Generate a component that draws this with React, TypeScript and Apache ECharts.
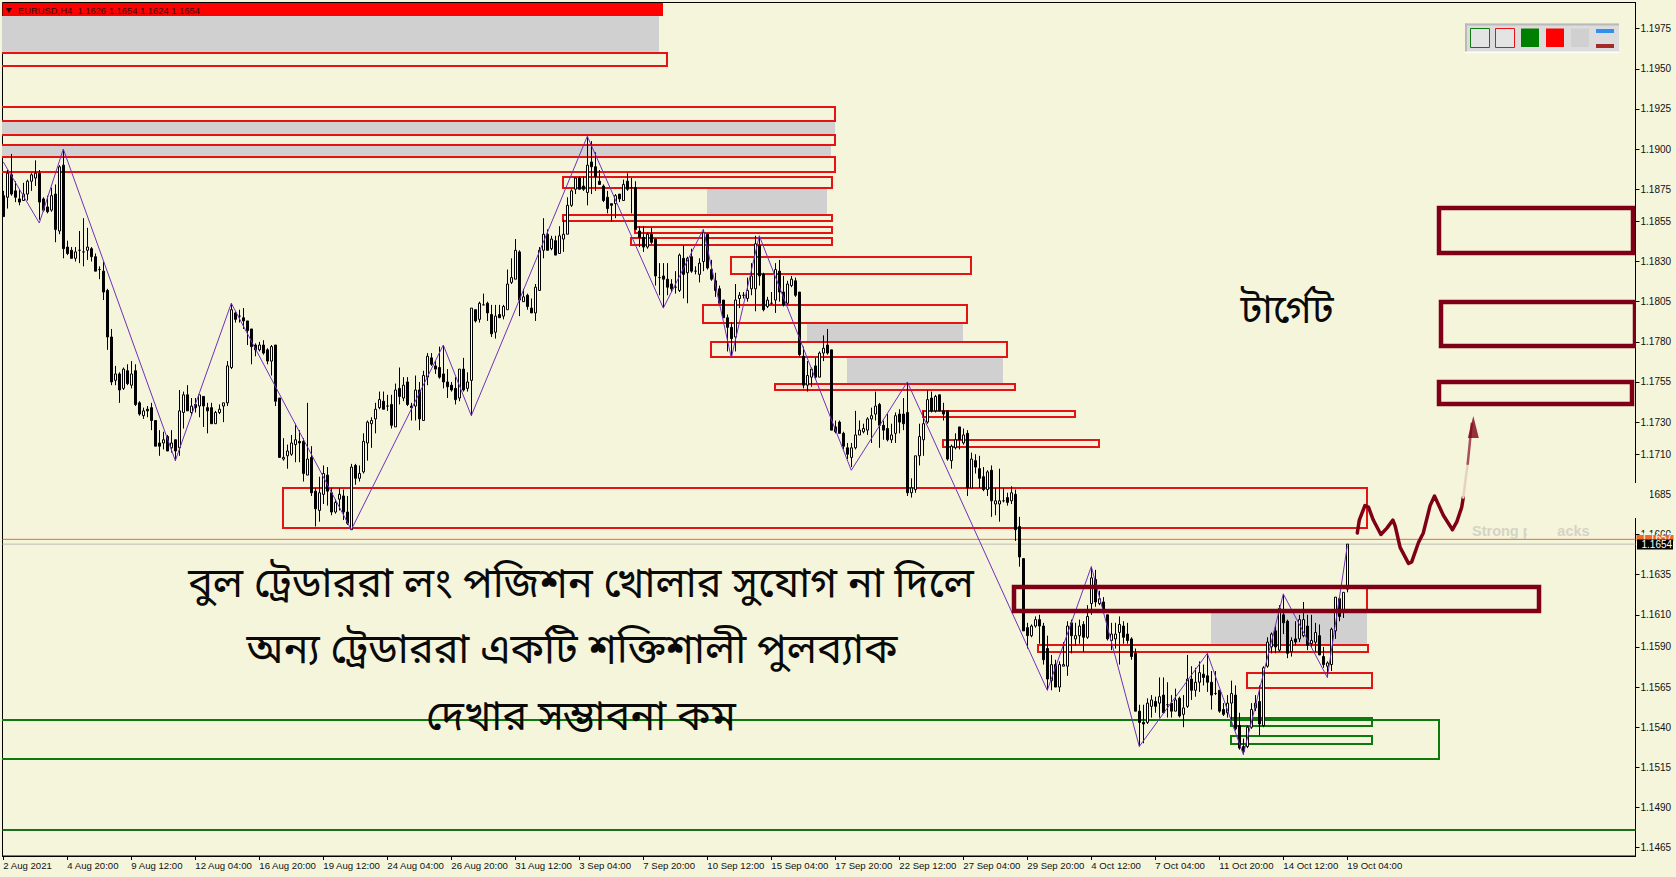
import React, { useEffect, useRef } from "react";
import * as echarts from "echarts";

// OHLC rows in 1/10000 of a price unit: [open, close, low, high]
const barsAug = [
[11871,11858,11858,11874],[11870,11885,11863,11887],[11884,11872,11871,11897],[11874,11870,11867,11880],[11869,11867,11865,11875],[11868,11872,11868,11879],[11872,11880,11868,11881],[11880,11884,11874,11885],[11882,11885,11877,11893],[11885,11867,11856,11887],
[11869,11862,11861,11870],[11864,11861,11860,11871],[11862,11871,11861,11876],[11872,11850,11842,11878],[11849,11889,11847,11890],[11890,11838,11832,11900],[11839,11835,11834,11843],[11837,11832,11832,11839],[11832,11836,11830,11839],[11837,11837,11829,11849],
[11836,11836,11827,11857],[11837,11839,11831,11851],[11838,11833,11830,11839],[11833,11824,11824,11835],[11825,11825,11819,11827],[11824,11811,11806,11830],[11812,11783,11775,11813],[11783,11755,11753,11788],[11756,11760,11753,11765],[11760,11750,11742,11761],
[11751,11763,11750,11764],[11762,11754,11753,11766],[11753,11760,11751,11768],[11762,11741,11740,11766],[11742,11735,11734,11743],[11734,11737,11732,11739],[11738,11737,11733,11740],[11739,11731,11725,11742],[11731,11715,11715,11731],[11717,11715,11709,11725],
[11717,11719,11713,11724],[11721,11712,11712,11722],[11714,11717,11711,11725],[11719,11712,11706,11719],[11714,11737,11709,11750],[11736,11747,11726,11749],[11747,11737,11737,11753],[11736,11740,11734,11745],[11741,11739,11736,11745],[11740,11747,11733,11747],
[11746,11740,11727,11746],[11739,11737,11723,11742],[11739,11729,11729,11742],[11729,11736,11729,11737],[11736,11738,11735,11741],[11740,11742,11730,11742],[11742,11765,11740,11768],[11764,11800,11763,11804],[11798,11794,11792,11799],[11796,11796,11792,11800],
[11795,11793,11788,11801],[11793,11787,11778,11793],[11788,11777,11766,11788],[11778,11775,11771,11779],[11775,11778,11774,11780],[11778,11773,11772,11781],[11775,11768,11766,11776],[11768,11777,11759,11778],[11778,11743,11740,11778],[11745,11708,11708,11745],
[11707,11708,11706,11720],[11709,11712,11701,11716],[11710,11717,11709,11722],[11716,11719,11705,11729],[11718,11717,11705,11725],[11718,11698,11693,11720],[11697,11707,11697,11742],[11708,11686,11684,11715],[11687,11676,11665,11689],[11675,11686,11668,11696],
[11685,11698,11679,11703],[11697,11687,11678,11702],[11686,11674,11672,11689],[11674,11680,11673,11682],[11682,11685,11675,11689],[11684,11674,11669,11688],[11674,11667,11666,11684],[11663,11702,11663,11704],[11703,11695,11691,11704],[11695,11698,11693,11703],
[11699,11718,11698,11723],[11717,11730,11706,11731],[11729,11731,11714,11733],[11732,11738,11723,11742],[11739,11744,11738,11749],[11743,11738,11738,11749],[11740,11740,11737,11747],[11741,11728,11726,11747],[11727,11750,11727,11754],[11751,11746,11741,11764],
[11745,11753,11743,11758],[11755,11741,11740,11758],[11740,11739,11731,11742],[11740,11750,11731,11759],[11750,11732,11725,11755],[11731,11759,11731,11762],[11758,11771,11753,11773],[11770,11766,11765,11773],[11765,11763,11760,11768],[11764,11758,11757,11777],
[11760,11755,11751,11778],[11755,11752,11745,11763],[11753,11750,11749,11755],[11751,11744,11741,11758],[11745,11763,11743,11763],[11763,11750,11749,11770],[11751,11755,11749,11761],[11756,11801,11734,11801],[11800,11793,11792,11800],[11794,11804,11792,11805],
[11803,11803,11803,11810],[11804,11798,11793,11805],[11797,11785,11783,11803],[11786,11796,11782,11803],[11797,11795,11795,11803],[11796,11802,11794,11803],[11800,11816,11800,11825],[11817,11820,11816,11832],[11819,11837,11819,11844],[11836,11806,11796,11837],
[11805,11808,11805,11813],[11809,11802,11800,11810],[11801,11798,11798,11807],[11798,11814,11793,11816],[11812,11837,11812,11839],[11837,11847,11832,11857],[11847,11837,11837,11850],[11838,11844,11837,11846],[11843,11834,11834,11846],[11835,11846,11835,11852],
[11844,11847,11836,11856],[11847,11865,11847,11870],
];
const barsSep = [
[11865,11874,11864,11875],[11875,11882,11872,11882],[11882,11875,11875,11883],[11877,11875,11874,11883],[11873,11890,11865,11908],[11892,11889,11872,11905],[11889,11883,11874,11898],[11880,11878,11878,11887],
[11877,11868,11867,11878],[11870,11863,11860,11874],[11866,11865,11855,11866],[11866,11871,11857,11872],[11872,11869,11867,11872],[11868,11878,11868,11881],[11880,11875,11874,11885],[11876,11876,11860,11882],[11876,11850,11850,11880],[11849,11845,11839,11852],
[11845,11839,11836,11852],[11839,11847,11838,11848],[11847,11842,11841,11851],[11844,11821,11815,11844],[11820,11820,11809,11829],[11821,11819,11801,11829],[11819,11814,11809,11829],[11816,11813,11811,11819],[11814,11814,11810,11824],[11812,11834,11811,11835],
[11832,11822,11807,11840],[11823,11832,11804,11833],[11833,11824,11823,11838],[11824,11824,11822,11827],[11822,11829,11817,11832],[11830,11848,11824,11850],[11847,11826,11825,11847],[11825,11819,11818,11831],[11818,11812,11808,11823],[11813,11804,11803,11815],
[11806,11795,11795,11806],[11795,11789,11774,11797],[11789,11782,11770,11792],[11783,11806,11774,11816],[11807,11809,11801,11811],[11809,11809,11807,11811],[11807,11812,11805,11820],[11813,11821,11809,11829],[11813,11841,11799,11846],[11840,11821,11815,11846],
[11822,11800,11799,11823],[11802,11806,11801,11808],[11804,11804,11803,11811],[11806,11825,11798,11829],[11824,11811,11805,11831],[11811,11803,11802,11821],[11804,11816,11803,11818],[11815,11819,11814,11821],[11818,11809,11808,11820],[11811,11772,11771,11811],
[11771,11753,11751,11777],[11753,11759,11749,11768],[11758,11763,11752,11764],[11765,11758,11757,11770],[11758,11773,11758,11774],[11773,11776,11768,11784],[11778,11773,11772,11788],[11775,11725,11725,11775],
[11727,11724,11723,11731],[11730,11723,11723,11731],[11723,11715,11713,11724],[11714,11710,11707,11717],[11708,11714,11702,11717],[11714,11722,11713,11737],[11722,11725,11722,11731],[11724,11726,11723,11729],[11725,11732,11722,11733],[11732,11734,11717,11739],
[11735,11740,11731,11749],[11741,11728,11714,11742],[11728,11725,11719,11731],[11726,11719,11718,11735],[11719,11722,11717,11729],[11723,11734,11717,11736],[11735,11730,11723,11738],[11735,11729,11725,11745],[11736,11686,11684,11755],[11686,11689,11683,11695],
[11688,11709,11686,11709],[11709,11721,11703,11729],[11719,11729,11709,11737],[11730,11744,11729,11750],[11745,11737,11736,11749],[11737,11746,11736,11747],[11747,11737,11737,11747],[11737,11735,11731,11742],[11737,11707,11706,11737],[11706,11715,11701,11716],
[11714,11719,11713,11723],[11727,11719,11713,11727],[11717,11722,11716,11726],[11723,11689,11684,11725],[11689,11707,11689,11711],[11706,11702,11698,11710],[11701,11695,11689,11709],[11696,11688,11687,11702],[11688,11699,11684,11700],[11700,11681,11671,11703],
[11679,11681,11672,11689],[11679,11681,11668,11701],[11681,11681,11680,11689],[11683,11680,11678,11686],[11681,11686,11679,11690],[11685,11663,11656,11688],[11665,11646,11640,11671],[11645,11600,11600,11645],
];
const barsOct = [
[11602,11597,11589,11605],[11597,11603,11596,11604],[11603,11607,11602,11609],[11607,11603,11592,11610],[11603,11582,11579,11605],[11589,11570,11563,11597],[11569,11579,11563,11585],[11579,11565,11565,11582],[11565,11579,11562,11581],[11578,11579,11578,11593],
[11578,11603,11572,11606],[11605,11597,11586,11607],[11595,11597,11591,11605],[11597,11603,11592,11607],[11604,11596,11587,11606],[11596,11609,11595,11616],[11617,11633,11610,11640],[11632,11618,11615,11638],[11617,11620,11616,11625],[11618,11613,11613,11621],
[11610,11595,11594,11610],[11594,11598,11588,11605],[11595,11598,11589,11605],[11599,11604,11579,11609],[11603,11596,11592,11606],[11598,11594,11592,11605],[11595,11584,11582,11596],[11586,11550,11550,11589],[11550,11543,11528,11554],[11543,11542,11530,11554],
[11543,11555,11542,11558],[11553,11557,11546,11560],[11556,11553,11549,11559],[11555,11559,11546,11571],[11560,11549,11549,11571],[11554,11554,11546,11568],[11555,11550,11546,11560],[11550,11557,11550,11564],[11558,11547,11546,11559],[11548,11552,11540,11560],
[11553,11570,11552,11585],[11570,11563,11557,11578],[11563,11568,11559,11577],[11568,11574,11562,11581],[11573,11571,11566,11579],[11572,11568,11562,11586],[11568,11560,11551,11575],[11561,11561,11560,11575],[11563,11550,11549,11563],[11551,11548,11547,11555],
[11549,11555,11546,11560],[11555,11561,11543,11569],[11560,11539,11538,11566],[11541,11527,11526,11549],[11528,11525,11523,11533],[11528,11540,11527,11541],[11540,11551,11539,11555],[11552,11555,11550,11560],[11556,11542,11535,11566],[11541,11577,11540,11578],
[11578,11593,11577,11596],[11590,11598,11586,11599],[11600,11590,11586,11603],[11588,11614,11587,11616],[11610,11605,11598,11623],[11606,11586,11583,11607],[11587,11594,11584,11596],[11595,11593,11591,11606],[11595,11607,11593,11610],[11597,11607,11596,11618],
[11603,11591,11588,11610],[11592,11594,11590,11610],[11593,11599,11587,11605],[11597,11585,11585,11604],[11584,11579,11577,11590],[11578,11580,11571,11581],[11579,11601,11575,11602],[11600,11621,11595,11621],[11620,11609,11606,11621],[11612,11624,11608,11624],
[11626,11654,11624,11654],
];

const xTickLabels = ["2 Aug 2021","4 Aug 20:00","9 Aug 12:00","12 Aug 04:00","16 Aug 20:00","19 Aug 12:00","24 Aug 04:00","26 Aug 20:00","31 Aug 12:00","3 Sep 04:00","7 Sep 20:00","10 Sep 12:00","15 Sep 04:00","17 Sep 20:00","22 Sep 12:00","27 Sep 04:00","29 Sep 20:00","4 Oct 12:00","7 Oct 04:00","11 Oct 20:00","14 Oct 12:00","19 Oct 04:00"];
const yTickValues = [1.1975,1.195,1.1925,1.19,1.1875,1.1855,1.183,1.1805,1.178,1.1755,1.173,1.171,1.1685,1.166,1.1635,1.161,1.159,1.1565,1.154,1.1515,1.149,1.1465];

// zigzag pivots: [bar index, price in 1/10000]
const zigzag = [[0,11892],[9,11854],[15,11900],[43,11706],[57,11804],[87,11663],[110,11778],[117,11734],[146,11908],[165,11801],[175,11850],[182,11770],[189,11846],[212,11700],[226,11755],[261,11563],[272,11640],[284,11528],[301,11586],[310,11523],[320,11623],[331,11571],[336,11653]];
// hand-drawn projection: [bar index, price in 1/10000]
const projection = [[338.5,11661],[339,11669],[340.4,11678],[341.3,11677],[342.5,11669],[344.4,11660],[345.9,11664],[347.4,11669],[348,11665],[349.2,11652],[351.3,11642],[352.1,11643],[353.8,11655],[355,11661],[356.7,11678],[357.8,11684],[360,11672],[362.3,11663],[363.4,11668],[364.6,11677],[365,11683]];
const projectionFaded = [[365,11683],[365.6,11695],[366.1,11704]];
const projectionTop = [[366.1,11704],[366.7,11719],[367.1,11729]];
const arrowTip = [[367.5,11727]];

// zones: [left bar index, top price, right bar index, bottom price]
const grayZones = [[-3,11983,164,11960],[-3,11917.5,207.9,11908.8],[-3,11902.6,206.9,11895.1],[175.9,11875.6,205.9,11859.6],[200.9,11791.1,239.9,11780.1],[210.9,11770.1,249.9,11754.2],[302,11611,340.9,11591.8]];
const redZones = [[-3,11959.7,165.9,11951.7],[-3,11926.2,207.9,11917.5],[-3,11908.8,207.9,11902.6],[-3,11895.1,207.9,11885.7],[139.9,11882.6,207.2,11875.6],[139.9,11859,207.2,11855.2],[157.9,11851.3,207.2,11847.6],[156.9,11844.6,207.2,11840.3],[181.9,11833,242,11822],[174.9,11803.1,240.9,11791.5],[176.9,11780.1,250.9,11770.5],[192.9,11753.7,252.9,11750],[229.8,11737.1,267.9,11733],[234.9,11718.9,273.9,11714.3],[69.9,11689.2,340.9,11664.1],[252.6,11627.6,340.9,11612.1],[258.7,11591.5,341.1,11586.7],[310.9,11574,342.1,11564.2]];
const paleZones = [[192.9,11753.7,252.9,11750]];
const greenZones = [[-3,11544.5,359,11520.2],[306.9,11546,342.1,11540.8],[306.9,11534.7,342.1,11529.4]];
const targetZones = [[252.6,11627.6,383.9,11612.1],[359,11863.2,407.4,11835.6],[359.3,11804.7,407.8,11777.7],[359,11754.8,407.1,11741]];

const supportLine = 11476;
const bidLine = 11654;
const askLine = 11657;

const headerText = "EURUSD,H4  1.1626 1.1654 1.1624 1.1654";
const captionLines = ["বুল ট্রেডাররা লং পজিশন খোলার সুযোগ না দিলে", "অন্য ট্রেডাররা একটি শক্তিশালী পুলব্যাক", "দেখার সম্ভাবনা কম"];
const targetLabel = "টার্গেট";
const fadedNote = "Strong pullbacks";

const BG = "#F5F5DC";
const UI_FONT = '"Liberation Sans", Arial, sans-serif';
const BN_FONT = '"Noto Sans Bengali", "Noto Serif Bengali", "Lohit Bengali", "Mukti", "FreeSerif", "Noto Sans", sans-serif';
const X_MIN = -0.2;
const X_MAX = 408.05;

function zoneSeries(rows: number[][], style: any, z: number) {
  return {
    type: "custom",
    z,
    silent: true,
    clip: true,
    encode: { x: [0, 2], y: [1, 3] },
    data: rows.map((r) => [r[0], r[1] / 1e4, r[2], r[3] / 1e4]),
    renderItem: (_: any, api: any) => {
      const a = api.coord([api.value(0), api.value(1)]).map(Math.round);
      const b = api.coord([api.value(2), api.value(3)]).map(Math.round);
      return {
        type: "rect",
        shape: { x: a[0], y: a[1], width: b[0] - a[0], height: b[1] - a[1] },
        style,
      };
    },
  };
}

function hLine(value: number, color: string, width: number, z: number) {
  return {
    type: "line",
    z,
    silent: true,
    symbol: "none",
    lineStyle: { color, width },
    data: [[X_MIN, value / 1e4], [X_MAX, value / 1e4]],
  };
}

function pathSeries(points: number[][], color: string, width: number) {
  return {
    type: "line",
    z: 8,
    silent: true,
    symbol: "none",
    lineStyle: { color, width, join: "round", cap: "round" },
    data: points.map((p) => [p[0], p[1] / 1e4]),
  };
}

function buildOption() {
  const bars = [...barsAug, ...barsSep, ...barsOct];
  const candles = bars.map((b, i) => [i, b[0] / 1e4, b[1] / 1e4, b[2] / 1e4, b[3] / 1e4]);
  const xTicks = xTickLabels.map((_, i) => i * 16);
  const txt = (text: string, x: number, y: number, fontSize: number, extra: any = {}, z = 50) => ({
    type: "text",
    x,
    y,
    z,
    silent: true,
    style: { text, fontSize, fontFamily: UI_FONT, fill: "#111", textAlign: "left", textVerticalAlign: "middle", ...extra },
  });
  const box = (x: number, y: number, width: number, height: number, fill: string, stroke?: string, z = 40) => ({
    type: "rect",
    z,
    silent: true,
    shape: { x, y, width, height },
    style: { fill, stroke: stroke || "none", lineWidth: stroke ? 1 : 0 },
  });
  return {
    animation: false,
    backgroundColor: BG,
    grid: { left: 2.5, right: 40.5, top: 2.5, bottom: 21, show: true, borderColor: "#000", borderWidth: 1, backgroundColor: "transparent", containLabel: false },
    tooltip: { show: false },
    xAxis: {
      type: "value",
      min: X_MIN,
      max: X_MAX,
      splitLine: { show: false },
      axisLine: { show: true, onZero: false, lineStyle: { color: "#000" } },
      axisTick: { show: true, length: 4, customValues: xTicks, lineStyle: { color: "#000" } },
      axisLabel: {
        customValues: xTicks,
        margin: 4,
        align: "left",
        fontFamily: UI_FONT,
        fontSize: 9.6,
        color: "#111",
        formatter: (v: number) => xTickLabels[Math.round(v / 16)] ?? "",
      },
    },
    yAxis: {
      type: "value",
      position: "right",
      min: 1.14598,
      max: 1.19913,
      splitLine: { show: false },
      axisLine: { show: true, onZero: false, lineStyle: { color: "#000" } },
      axisTick: { show: true, length: 4, customValues: yTickValues, lineStyle: { color: "#000" } },
      axisLabel: {
        customValues: yTickValues,
        margin: 5,
        fontFamily: UI_FONT,
        fontSize: 10,
        color: "#111",
        formatter: (v: number) => v.toFixed(4),
      },
    },
    series: [
      zoneSeries(grayZones, { fill: "#D0D0D0" }, 1),
      zoneSeries(paleZones, { fill: "#F8E4D2" }, 1),
      zoneSeries(redZones, { fill: "none", stroke: "#E41414", lineWidth: 2 }, 2),
      zoneSeries(greenZones, { fill: "none", stroke: "#0C7A0C", lineWidth: 2 }, 2),
      hLine(supportLine, "#1B6E1B", 2, 2),
      hLine(askLine, "#EE6A2C", 1, 2),
      hLine(bidLine, "#BDBDB5", 1, 2),
      {
        type: "candlestick",
        z: 5,
        silent: true,
        barWidth: 3,
        encode: { x: 0, y: [1, 2, 3, 4] },
        itemStyle: { color: "#FFFFFF", color0: "#000000", borderColor: "#000000", borderColor0: "#000000", borderColorDoji: "#000000", borderWidth: 1 },
        data: candles,
      },
      {
        type: "line",
        z: 6,
        silent: true,
        symbol: "none",
        lineStyle: { color: "#7030B8", width: 1 },
        data: zigzag.map((p) => [p[0], p[1] / 1e4]),
      },
      zoneSeries(targetZones, { fill: "none", stroke: "#7F0016", lineWidth: 4.5 }, 7),
      pathSeries(projection, "#7F0016", 3.5),
      pathSeries(projectionFaded, "#E6D2C0", 2.5),
      pathSeries(projectionTop, "#A8505A", 2.5),
      {
        type: "scatter",
        z: 8,
        silent: true,
        symbol: "triangle",
        symbolSize: [11, 22],
        itemStyle: { color: "#7F0016" },
        data: arrowTip.map((p) => [p[0], p[1] / 1e4]),
      },
    ],
    graphic: [
      // platform title strip
      box(2.5, 3, 660.5, 13, "#FF0000"),
      { type: "polygon", z: 41, silent: true, shape: { points: [[6, 8], [12, 8], [9, 13]] }, style: { fill: "#111" } },
      txt(headerText, 18, 10.5, 9.4, { fill: "#3A0808" }),
      // object toolbar
      box(1465, 23.5, 154, 29, "#DCDCDC"),
      box(1465, 23.5, 154, 2, "#B9B9B9"),
      box(1465, 23.5, 2, 29, "#B9B9B9"),
      box(1465, 51.5, 154, 1.5, "#FFFFFF"),
      box(1470.5, 28.5, 19, 19, "#E4E4E4", "#0C7A0C"),
      box(1495.5, 28.5, 19, 19, "#E4E4E4", "#E41414"),
      box(1521, 28.5, 18, 18.5, "#008000"),
      box(1546, 28.5, 18, 18.5, "#FF0000"),
      box(1571, 28.5, 18, 18.5, "#D0D0D0"),
      box(1596, 29, 18, 4, "#3090F0"),
      box(1596, 44, 18, 4, "#A52A2A"),
      // erased part of the scale and of the faded note
      box(1632, 483, 18, 35, BG),
      txt(fadedNote, 1472, 530.5, 14.5, { fill: "#D4D4C4", fontWeight: "bold" }, 38),
      box(1527, 523, 30, 15, BG, undefined, 39),
      // price tags
      box(1636.5, 535, 37, 6, "#EE6A2C", undefined, 41),
      txt("1.1657", 1641.5, 537, 10, { fill: "#FFFFFF" }, 42),
      box(1637, 539.5, 36, 10, "#000000", undefined, 45),
      txt("1.1654", 1641.5, 544.5, 10, { fill: "#FFFFFF" }, 60),
      // captions
      ...captionLines.map((line, i) => ({
        type: "text",
        z: 55,
        silent: true,
        x: [581, 572, 581][i],
        y: [586, 652, 719][i],
        style: { text: line, fontSize: 41.5, fontFamily: BN_FONT, fill: "#0A0A0A", textAlign: "center", textVerticalAlign: "middle" },
      })),
      {
        type: "text",
        z: 55,
        silent: true,
        x: 1287,
        y: 312,
        style: { text: targetLabel, fontSize: 40, fontFamily: BN_FONT, fill: "#0A0A0A", textAlign: "center", textVerticalAlign: "middle" },
      },
    ],
  };
}

export default function App() {
  const ref = useRef<HTMLDivElement>(null);
  useEffect(() => {
    const chart = echarts.init(ref.current!, undefined, { renderer: "svg" });
    chart.setOption(buildOption() as any);
    return () => chart.dispose();
  }, []);
  return <div ref={ref} style={{ position: "absolute", left: 0, top: 0, width: 1676, height: 877, background: BG }} />;
}
